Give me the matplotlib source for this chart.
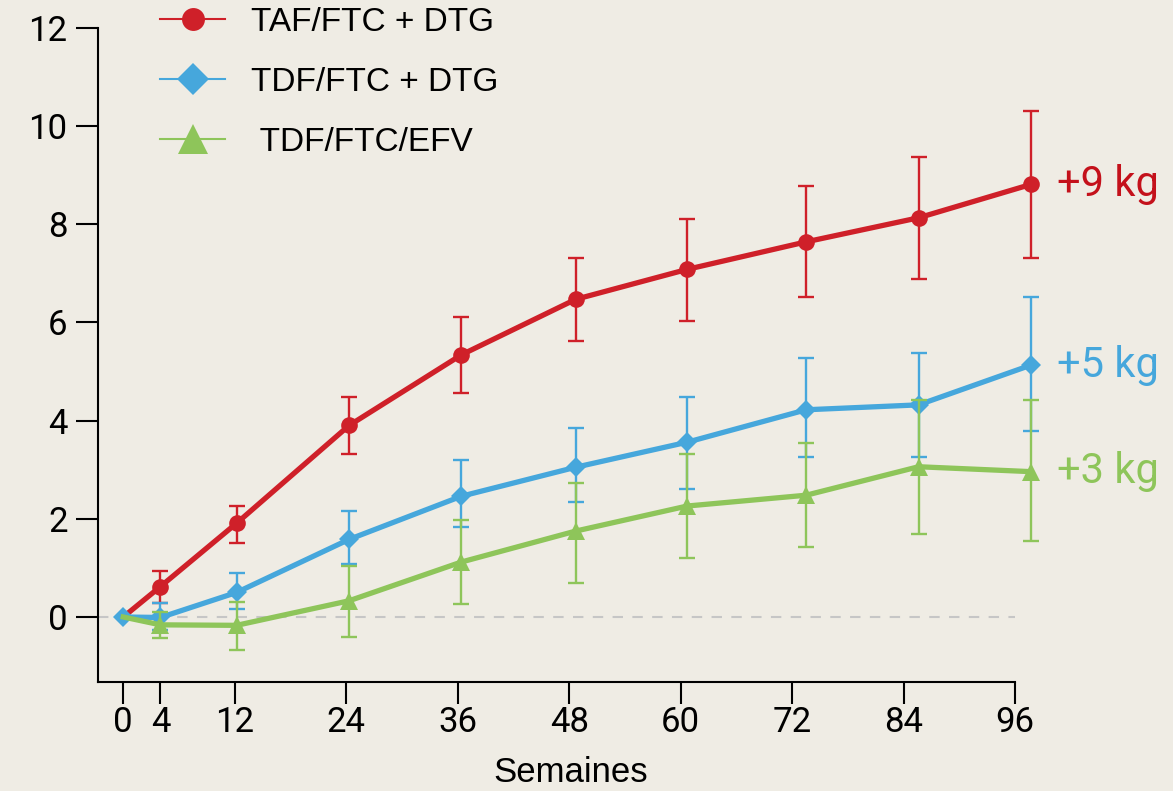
import numpy as np
import matplotlib
matplotlib.use("Agg")
import matplotlib.pyplot as plt
from matplotlib import font_manager
from matplotlib.lines import Line2D

# Weight change (kg) over time for three regimens
week_pos = [0, 4, 12.2, 24.3, 36.4, 48.7, 60.7, 73.5, 85.6, 97.7]
week_ticks = [0, 4, 12, 24, 36, 48, 60, 72, 84, 96]
y_ticks = [0, 2, 4, 6, 8, 10, 12]

taf_mean = [0, 0.62, 1.91, 3.90, 5.34, 6.47, 7.08, 7.64, 8.13, 8.81]
taf_low = [0, 0.29, 1.51, 3.32, 4.57, 5.62, 6.03, 6.52, 6.88, 7.31]
taf_high = [0, 0.94, 2.26, 4.49, 6.10, 7.32, 8.11, 8.78, 9.37, 10.31]

tdf_dtg_mean = [0, -0.01, 0.50, 1.58, 2.46, 3.05, 3.56, 4.22, 4.32, 5.13]
tdf_dtg_low = [0, -0.26, 0.16, 1.08, 1.84, 2.34, 2.61, 3.25, 3.25, 3.79]
tdf_dtg_high = [0, 0.28, 0.90, 2.16, 3.20, 3.85, 4.49, 5.28, 5.37, 6.51]

efv_mean = [0, -0.16, -0.17, 0.33, 1.12, 1.75, 2.26, 2.48, 3.06, 2.96]
efv_low = [0, -0.43, -0.67, -0.40, 0.26, 0.69, 1.20, 1.43, 1.68, 1.54]
efv_high = [0, 0.11, 0.31, 1.04, 1.97, 2.73, 3.32, 3.54, 4.42, 4.41]

labels = ["TAF/FTC + DTG", "TDF/FTC + DTG", " TDF/FTC/EFV"]
end_labels = ["+9 kg", "+5 kg", "+3 kg"]

BG = "#efece4"
RED, BLUE, GREEN = "#cf2029", "#46a7dc", "#8ec55a"
END_COLORS = ["#c4111b", "#46a7dc", "#8ec55a"]

try:
    font_manager.findfont("Liberation Sans Narrow", fallback_to_default=False)
    legend_family, legend_size = "Liberation Sans Narrow", 27
except ValueError:
    legend_family, legend_size = "Liberation Sans", 24

num_family = ["Roboto", "DejaVu Sans"]

fig = plt.figure(figsize=(11.73, 7.91), dpi=100, facecolor=BG)
ax = fig.add_axes([0.08355, 0.1378, 0.8136, 0.8271], facecolor=BG)

x_left, x_right = -2.72, 100
ax.set_xlim(x_left, x_right)
ax.set_ylim(-1.324, 12)

# zero reference line
ax.hlines(0, x_left, week_ticks[-1], colors="#c6c6c6", linestyles=(0, (5, 4.5)),
          linewidth=1.5, zorder=1)

series = [
    (taf_mean, taf_low, taf_high, RED, "o", 12, 1),
    (tdf_dtg_mean, tdf_dtg_low, tdf_dtg_high, BLUE, "D", 10, 0),
    (efv_mean, efv_low, efv_high, GREEN, "^", 13, 1),
]

x = np.array(week_pos)
for i, (mean, low, high, color, marker, ms, first) in enumerate(series):
    m = np.array(mean)
    lo = np.array(low)
    hi = np.array(high)
    z = 3 + i
    ax.errorbar(x[1:], m[1:], yerr=[m[1:] - lo[1:], hi[1:] - m[1:]], fmt="none",
                ecolor=color, elinewidth=1.7, capsize=6.1, capthick=1.7,
                zorder=z, clip_on=False)
    ax.plot(x, m, color=color, linewidth=3.8, marker=marker, markersize=ms,
            markeredgewidth=0, markevery=slice(first, None), zorder=z + 0.5,
            clip_on=False)
    ax.annotate(end_labels[i], xy=(x[-1], m[-1]), xytext=(19, 0),
                textcoords="offset points", va="center", ha="left",
                color=END_COLORS[i], fontsize=30, family=num_family)

# spines and ticks
for side in ("top", "right"):
    ax.spines[side].set_visible(False)
for side in ("left", "bottom"):
    ax.spines[side].set_linewidth(1.5)
    ax.spines[side].set_color("black")
ax.spines["bottom"].set_bounds(x_left, week_ticks[-1])

ax.set_xticks(week_ticks)
ax.set_xticklabels([str(t) for t in week_ticks])
ax.set_yticks(y_ticks)
ax.set_yticklabels([str(t) for t in y_ticks])
ax.tick_params(axis="both", direction="out", length=16, width=1.5, colors="black",
               labelsize=25)
ax.tick_params(axis="y", pad=6)
ax.tick_params(axis="x", pad=1)
for lab in ax.get_xticklabels() + ax.get_yticklabels():
    lab.set_family(num_family)

ax.set_xlabel("Semaines", fontsize=25, family="Liberation Sans")
ax.xaxis.set_label_coords(0.4957, -0.1376)
ax.xaxis.label.set_verticalalignment("center")

# legend
handles = [
    Line2D([], [], color=RED, linewidth=1.5, marker="o", markersize=16.5, markeredgewidth=0),
    Line2D([], [], color=BLUE, linewidth=1.5, marker="D", markersize=16.5, markeredgewidth=0),
    Line2D([], [], color=GREEN, linewidth=1.5, marker="^", markersize=21, markeredgewidth=0),
]
fs_px = legend_size * 100 / 72
leg = ax.legend(handles, labels, loc="upper left", bbox_to_anchor=(160 / 1173, 1 - 7 / 791),
                bbox_transform=fig.transFigure, frameon=False, borderpad=0,
                borderaxespad=0, handlelength=65 / fs_px,
                handletextpad=26 / fs_px, labelspacing=0.87,
                prop={"family": legend_family, "size": legend_size})

fig.savefig("out.png", dpi=100, facecolor=BG)
